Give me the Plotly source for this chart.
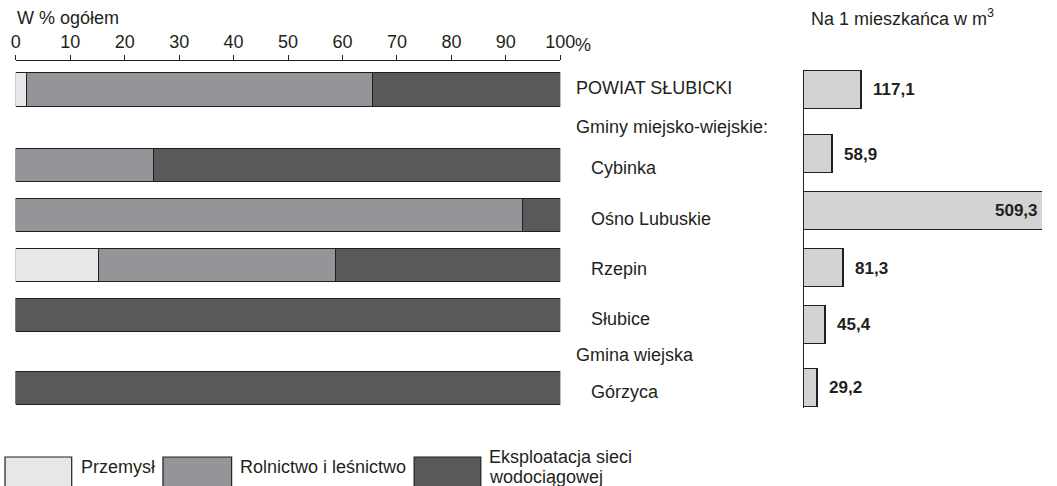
import plotly.graph_objects as go

W, H = 1057, 486

# --- data -------------------------------------------------------------
rows = ["POWIAT SŁUBICKI", "Cybinka", "Ośno Lubuskie", "Rzepin", "Słubice", "Górzyca"]
przemysl = [2.1, 0, 0, 15.2, 0, 0]
rolnictwo = [63.5, 25.3, 93.2, 43.6, 0, 0]
siec = [34.4, 74.7, 6.8, 41.2, 100, 100]
na_mieszkanca = [117.1, 58.9, 509.3, 81.3, 45.4, 29.2]
groups = ["Gminy miejsko-wiejskie:", "Gmina wiejska"]
pct_ticks = [0, 10, 20, 30, 40, 50, 60, 70, 80, 90, 100]
pct_ticktext = ["0", "10", "20", "30", "40", "50", "60", "70", "80", "90", "100"]
series_names = ["Przemysł", "Rolnictwo i leśnictwo", "Eksploatacja sieci<br>wodociągowej"]

# --- layout helpers ---------------------------------------------------
row_pos = [0, 1.5, 2.5, 3.5, 4.5, 5.95]          # left panel rows
right_pos = [0, 1.28, 2.41, 3.55, 4.68, 5.93]    # right panel rows
group_pos = [0.74, 5.28]
indent = [False, True, True, True, True, True]

FONT = "Liberation Sans, Arial, sans-serif"
INK = "#231f20"
C_IND = "#e6e7e8"
C_AGR = "#939598"
C_NET = "#58595b"
C_RIGHT = "#d1d3d4"
colors = [C_IND, C_AGR, C_NET]
FS = 18

LEFT_X0, LEFT_X1 = 11, 566      # left panel horizontal extent (px)
RIGHT_X0 = 814                  # right panel axis (px)
LABEL_X = 580                   # row label column (px)
X2_MAX = 482

fig = go.Figure()

for vals, name, col in zip([przemysl, rolnictwo, siec], series_names, colors):
    fig.add_trace(go.Bar(
        x=vals, y=row_pos, orientation="h", name=name,
        marker=dict(color=col, line=dict(color=INK, width=1.2)),
        width=0.66, xaxis="x", yaxis="y", showlegend=False,
        hoverinfo="skip",
    ))

fig.add_trace(go.Bar(
    x=na_mieszkanca, y=right_pos, orientation="h",
    marker=dict(color=C_RIGHT, line=dict(color=INK, width=1.2)),
    width=0.76, xaxis="x2", yaxis="y2", showlegend=False, hoverinfo="skip",
))

annotations = []
x2_dom0 = RIGHT_X0 / W


def x2_to_paper(v):
    return x2_dom0 + v / X2_MAX * (1 - x2_dom0)


# value labels on the right panel (a bar longer than the axis gets its label inside)
for v, p in zip(na_mieszkanca, right_pos):
    txt = "<b>" + f"{v:.1f}".replace(".", ",") + "</b>"
    inside = v > X2_MAX
    annotations.append(dict(x=x2_to_paper(v), y=p, xref="paper", yref="y2", text=txt,
                            xanchor="right" if inside else "left", yanchor="middle",
                            xshift=-16 if inside else 9,
                            showarrow=False, font=dict(size=17, color=INK, family=FONT)))

# row labels between the panels
for name, p, ind in zip(rows, row_pos, indent):
    annotations.append(dict(x=(LABEL_X + (15 if ind else 0)) / W, y=p, xref="paper", yref="y",
                            text=name, xanchor="left", yanchor="middle", yshift=-3 if ind else 2,
                            showarrow=False, font=dict(size=FS, color=INK, family=FONT)))
for g, p in zip(groups, group_pos):
    annotations.append(dict(x=LABEL_X / W, y=p, xref="paper", yref="y", text=g,
                            xanchor="left", yanchor="middle",
                            showarrow=False, font=dict(size=FS, color=INK, family=FONT)))

# panel titles
annotations.append(dict(x=10 / W, y=1 - 18 / H, xref="paper", yref="paper", text="W % ogółem",
                        xanchor="left", yanchor="middle", showarrow=False,
                        font=dict(size=FS, color=INK, family=FONT)))
annotations.append(dict(x=(RIGHT_X0 + 6) / W, y=1 - 18 / H, xref="paper", yref="paper",
                        text="Na 1 mieszkańca w m<sup>3</sup>",
                        xanchor="left", yanchor="middle", showarrow=False,
                        font=dict(size=FS, color=INK, family=FONT)))
# percent sign after the last tick label
annotations.append(dict(x=100, y=1 - 45 / H, xref="x", yref="paper", text="%",
                        xanchor="left", yanchor="middle", xshift=13, showarrow=False,
                        font=dict(size=FS, color=INK, family=FONT)))

# legend keys
shapes = []
key_boxes = [(0, 68), (161, 231), (417, 485)]
key_text_x = [75, 237, 491]
LINE_GAP = 20
for (x0, x1), tx, col, name in zip(key_boxes, key_text_x, colors, series_names):
    shapes.append(dict(type="rect", xref="paper", yref="paper",
                       x0=x0 / W, x1=x1 / W, y0=-0.01, y1=(H - 457) / H,
                       fillcolor=col, line=dict(color=INK, width=1.2)))
    lines = name.split("<br>")
    first = 467 - (len(lines) - 1) * LINE_GAP / 2
    for i, ln in enumerate(lines):
        annotations.append(dict(x=tx / W, y=(H - (first + i * LINE_GAP)) / H,
                                xref="paper", yref="paper",
                                text=ln, xanchor="left", yanchor="middle", align="left",
                                showarrow=False, font=dict(size=FS, color=INK, family=FONT)))

fig.update_layout(
    width=W, height=H, margin=dict(l=0, r=0, t=0, b=0),
    paper_bgcolor="white", plot_bgcolor="white",
    barmode="stack", bargap=0,
    font=dict(family=FONT, color=INK, size=FS),
    xaxis=dict(domain=[LEFT_X0 / W, LEFT_X1 / W], range=[0, 100], side="top",
               anchor="free", position=1 - 60 / H,
               showline=True, linecolor=INK, linewidth=1.2,
               ticks="outside", ticklen=5, tickwidth=1, tickcolor=INK,
               tickvals=pct_ticks, ticktext=pct_ticktext,
               tickfont=dict(size=FS, color=INK, family=FONT),
               showgrid=False, zeroline=False, fixedrange=True),
    yaxis=dict(domain=[0, 1], range=[7.888, -1.793], visible=False, fixedrange=True),
    xaxis2=dict(domain=[x2_dom0, 1], range=[0, X2_MAX], anchor="y2", visible=False,
                showgrid=False, zeroline=False),
    yaxis2=dict(domain=[1 - 408 / H, 1 - 70 / H], range=[6.335, -0.398], anchor="x2",
                showline=True, linecolor=INK, linewidth=1.2, showticklabels=False,
                ticks="", showgrid=False, zeroline=False),
    annotations=annotations, shapes=shapes,
)

fig.write_html("out.html")
